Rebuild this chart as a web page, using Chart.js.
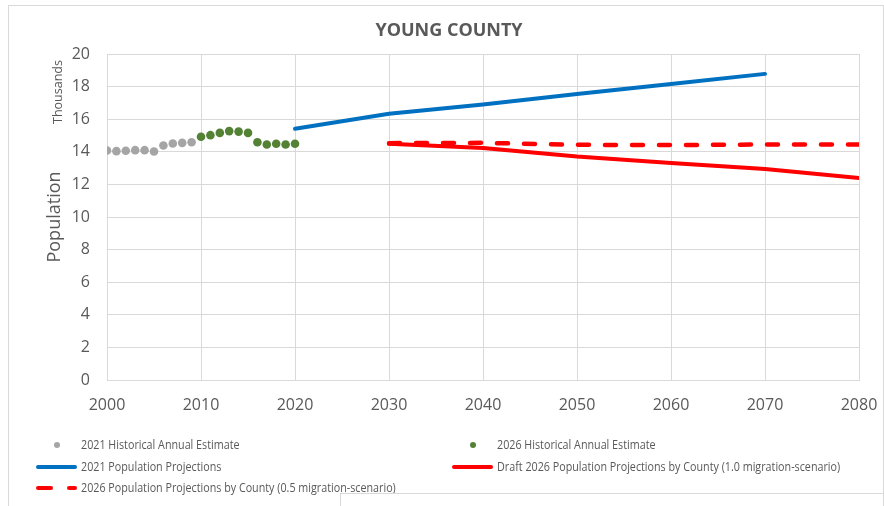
<!DOCTYPE html>
<html>
<head>
<meta charset="utf-8">
<script src="https://cdn.jsdelivr.net/npm/chart.js@4"></script>
<style>
  html, body { margin: 0; padding: 0; background: #fff; }
  #wrap { position: relative; width: 884px; height: 506px; overflow: hidden; }
  #c { position: absolute; left: 0; top: 0; }
  .frame { position: absolute; left: 8px; top: 5px; width: 874px; height: 520px; border: 1px solid #d9d9d9; pointer-events: none; }
  .frame2 { position: absolute; left: 340px; top: 493px; width: 600px; height: 40px; border-top: 1px solid #d9d9d9; border-left: 1px solid #d9d9d9; pointer-events: none; }
  .leg { position: absolute; font-family: "Open Sans", sans-serif; font-size: 13px; color: #595959; white-space: nowrap; line-height: 14px; transform-origin: 0 50%; }
  .mk { position: absolute; }
</style>
</head>
<body>
<div id="wrap">
  <canvas id="c" width="884" height="506"></canvas>
  <div class="frame"></div>
  <div id="legend"></div>
  <div class="frame2"></div>
</div>
<script>
// ---- data ----
const hist2021Years = [2000, 2001, 2002, 2003, 2004, 2005, 2006, 2007, 2008, 2009];
const hist2021Values = [14.08, 14.04, 14.06, 14.10, 14.10, 14.02, 14.39, 14.51, 14.55, 14.59];
const hist2026Years = [2010, 2011, 2012, 2013, 2014, 2015, 2016, 2017, 2018, 2019, 2020];
const hist2026Values = [14.92, 15.02, 15.16, 15.27, 15.24, 15.16, 14.59, 14.45, 14.49, 14.45, 14.49];
const proj2021Years = [2020, 2030, 2040, 2050, 2060, 2070];
const proj2021Values = [15.41, 16.33, 16.90, 17.55, 18.16, 18.78];
const proj2026Years = [2030, 2040, 2050, 2060, 2070, 2080];
const proj2026Mig10 = [14.49, 14.24, 13.71, 13.31, 12.94, 12.39];
const proj2026Mig05 = [14.53, 14.55, 14.43, 14.41, 14.45, 14.45];
const xTickValues = [2000, 2010, 2020, 2030, 2040, 2050, 2060, 2070, 2080];
const yTickValues = [0, 2, 4, 6, 8, 10, 12, 14, 16, 18, 20];
const seriesNames = [
  "2021 Historical Annual Estimate",
  "2026 Historical Annual Estimate",
  "2021 Population Projections",
  "Draft 2026 Population Projections by County (1.0 migration-scenario)",
  "2026 Population Projections by County (0.5 migration-scenario)"
];
const chartTitle = "YOUNG COUNTY";

const pts = (xs, ys) => xs.map((x, i) => ({ x: x, y: ys[i] }));
const TXT = '#595959';
const GRID = '#d9d9d9';

const extraText = {
  id: 'extraText',
  afterDraw(chart) {
    const ctx = chart.ctx;
    ctx.save();
    ctx.fillStyle = TXT;
    ctx.font = '12.5px "Open Sans"';
    ctx.translate(58, 92);
    ctx.rotate(-Math.PI / 2);
    ctx.textAlign = 'center';
    ctx.textBaseline = 'middle';
    ctx.fillText('Thousands', 0, 0);
    ctx.restore();

    ctx.save();
    ctx.fillStyle = TXT;
    ctx.font = 'bold 18px "Open Sans"';
    ctx.textAlign = 'center';
    ctx.textBaseline = 'middle';
    ctx.fillText(chartTitle, 449, 31);
    ctx.restore();
  }
};

const chart = new Chart(document.getElementById('c'), {
  type: 'scatter',
  data: {
    datasets: [
      { label: seriesNames[0], data: pts(hist2021Years, hist2021Values), showLine: false,
        pointRadius: 4.3, pointBackgroundColor: '#a5a5a5', pointBorderWidth: 0, backgroundColor: '#a5a5a5', borderColor: '#a5a5a5' },
      { label: seriesNames[1], data: pts(hist2026Years, hist2026Values), showLine: false,
        pointRadius: 4.3, pointBackgroundColor: '#548235', pointBorderWidth: 0, backgroundColor: '#548235', borderColor: '#548235' },
      { label: seriesNames[2], data: pts(proj2021Years, proj2021Values), showLine: true,
        pointRadius: 0, borderColor: '#0070c0', backgroundColor: '#0070c0', borderWidth: 4, borderCapStyle: 'round' },
      { label: seriesNames[3], data: pts(proj2026Years, proj2026Mig10), showLine: true,
        pointRadius: 0, borderColor: '#ff0000', backgroundColor: '#ff0000', borderWidth: 4, borderCapStyle: 'round' },
      { label: seriesNames[4], data: pts(proj2026Years, proj2026Mig05), showLine: true,
        pointRadius: 0, borderColor: '#ff0000', backgroundColor: '#ff0000', borderWidth: 4.5, borderCapStyle: 'round', borderDash: [11, 16] }
    ]
  },
  options: {
    responsive: false,
    animation: false,
    events: [],
    layout: { padding: { left: 0, right: 25, top: 54, bottom: 0 } },
    plugins: {
      legend: { display: false },
      tooltip: { enabled: false },
      title: { display: false }
    },
    scales: {
      x: {
        type: 'linear', min: 2000, max: 2080,
        afterBuildTicks: (s) => { s.ticks = xTickValues.map(v => ({ value: v })); },
        afterFit: (s) => { s.height = 126; s.paddingRight = 0; s.paddingLeft = 0; },
        grid: { color: GRID, lineWidth: 1, drawTicks: false },
        border: { color: GRID, width: 1 },
        ticks: { color: TXT, font: { family: 'Open Sans', size: 16 }, padding: 16, maxRotation: 0, callback: v => String(v) }
      },
      y: {
        min: 0, max: 20,
        afterBuildTicks: (s) => { s.ticks = yTickValues.map(v => ({ value: v })); },
        afterFit: (s) => { s.width = 107; },
        grid: { color: GRID, lineWidth: 1, drawTicks: false },
        border: { color: GRID, width: 1 },
        ticks: { color: TXT, font: { family: 'Open Sans', size: 16 }, padding: 17 },
        title: { display: true, text: 'Population', color: TXT, font: { family: 'Open Sans', size: 18 }, padding: { top: 44, bottom: 0 } }
      }
    }
  },
  plugins: [extraText]
});

// ---- HTML legend built from the chart's datasets ----
(function buildLegend() {
  const leg = document.getElementById('legend');
  const cols = [{ mk: 36, txt: 81 }, { mk: 452, txt: 497 }];
  const rows = [445, 467, 488];
  // condense the legend font to match the reference's narrow face
  const mctx = document.createElement('canvas').getContext('2d');
  mctx.font = '13px "Open Sans"';
  const squeeze = 343 / mctx.measureText(seriesNames[3]).width;
  chart.data.datasets.forEach((ds, i) => {
    const col = cols[i % 2], rowY = rows[Math.floor(i / 2)];
    if (!ds.showLine) {
      const mk = document.createElement('div');
      mk.className = 'mk';
      mk.style.cssText = `left:${col.mk + 18}px;top:${rowY - 3}px;width:6px;height:6px;border-radius:50%;background:${ds.pointBackgroundColor};`;
      leg.appendChild(mk);
    } else if (ds.borderDash) {
      const a = document.createElement('div');
      a.className = 'mk';
      a.style.cssText = `left:${col.mk}px;top:${rowY - 2}px;width:17px;height:4px;border-radius:2px;background:${ds.borderColor};`;
      const b = document.createElement('div');
      b.className = 'mk';
      b.style.cssText = `left:${col.mk + 31}px;top:${rowY - 2}px;width:10px;height:4px;border-radius:2px;background:${ds.borderColor};`;
      leg.appendChild(a); leg.appendChild(b);
    } else {
      const mk = document.createElement('div');
      mk.className = 'mk';
      mk.style.cssText = `left:${col.mk}px;top:${rowY - 2}px;width:41px;height:4px;border-radius:2px;background:${ds.borderColor};`;
      leg.appendChild(mk);
    }
    const t = document.createElement('div');
    t.className = 'leg';
    t.style.left = col.txt + 'px';
    t.style.top = (rowY - 8) + 'px';
    t.style.transform = `scaleX(${squeeze.toFixed(3)})`;
    t.textContent = ds.label;
    leg.appendChild(t);
  });
})();
</script>
</body>
</html>
